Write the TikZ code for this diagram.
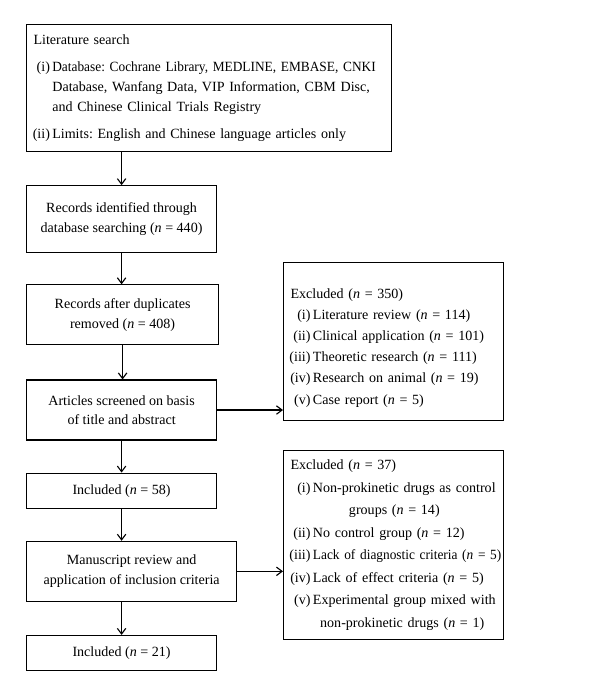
\documentclass[tikz,border=0pt]{standalone}
\usepackage{fontspec}
\setmainfont{Liberation Serif}
\usetikzlibrary{positioning, arrows.meta}
\frenchspacing

\newcommand{\nn}[1]{(\textit{n}~=~#1)}
% numbered line: label width, label, text
\newcommand{\itm}[3]{\mbox{\makebox[#1][r]{#2}\,#3}}
% continued line: indent, text
\newcommand{\cont}[2]{\mbox{\hspace*{#1}#2}}
% slightly condensed text for the long lines
\newcommand{\narrow}[1]{{\addfontfeature{FakeStretch=0.95}#1}}

\begin{document}
\begin{tikzpicture}[
    x=0.025cm, y=-0.025cm,
    node distance=0.8cm,
    box/.style={rectangle, draw, thick, align=center, font=\fontsize{10}{14}\selectfont, minimum width=4.75cm, minimum height=1.5cm, inner sep=0pt},
    listbox/.style={rectangle, draw, thick, align=left, font=\fontsize{10}{14}\selectfont, inner xsep=0.175cm, inner ysep=0pt},
    exbox/.style={listbox, text width=5.15cm},
    arrow/.style={-{Straight Barb[length=4pt, width=6pt]}, thick},
]
\useasboundingbox (0,0) rectangle (600,688);

% ============ Literature search ============
\node[listbox, text width=8.775cm, minimum height=3.175cm, anchor=north west] (search) at (26,24) {Literature search\\[5.5pt]
  \itm{0.41cm}{(i)}{\narrow{Database: Cochrane Library, MEDLINE, EMBASE, CNKI}}\\
  \cont{0.47cm}{Database, Wanfang Data, VIP Information, CBM Disc,}\\
  \cont{0.47cm}{and Chinese Clinical Trials Registry}\\[5.5pt]
  \itm{0.41cm}{(ii)}{Limits: English and Chinese language articles only}};

% ============ Main flow ============
\node[box, minimum height=1.675cm, below=0.825cm of search.south west, anchor=north west] (records) {Records identified through\\database searching \nn{440}};
\node[box, minimum width=4.8cm, below=0.775cm of records.south west, anchor=north west] (nodup) {Records after duplicates\\removed \nn{408}};
\node[box, below=0.85cm of nodup.south west, anchor=north west] (screened) {Articles screened on basis\\of title and abstract};
\node[box, minimum height=0.875cm, below=of screened.south west, anchor=north west] (incl_a) {Included \nn{58}};
\node[box, minimum width=5.25cm, below=of incl_a.south west, anchor=north west] (review) {Manuscript review and\\application of inclusion criteria};
\node[box, minimum height=0.875cm, below=0.825cm of review.south west, anchor=north west] (incl_b) {Included \nn{21}};

% ============ Excluded ============
\node[exbox, font=\fontsize{10}{15}\selectfont, minimum height=3.95cm, anchor=north west] (excl_a) at (283,262) {\rule{0pt}{16pt}Excluded \nn{350}\\
  \itm{0.5cm}{(i)}{Literature review \nn{114}}\\
  \itm{0.5cm}{(ii)}{Clinical application \nn{101}}\\
  \itm{0.5cm}{(iii)}{Theoretic research \nn{111}}\\
  \itm{0.5cm}{(iv)}{Research on animal \nn{19}}\\
  \itm{0.5cm}{(v)}{Case report \nn{5}}};
\node[exbox, font=\fontsize{10}{16}\selectfont, minimum height=4.725cm, below=0.725cm of excl_a.south west, anchor=north west] (excl_b) {Excluded \nn{37}\\
  \itm{0.5cm}{(i)}{Non-prokinetic drugs as control}\\
  \cont{1.46cm}{groups \nn{14}}\\
  \itm{0.5cm}{(ii)}{No control group \nn{12}}\\
  \itm{0.5cm}{(iii)}{\narrow{Lack of diagnostic criteria \nn{5}}}\\
  \itm{0.5cm}{(iv)}{Lack of effect criteria \nn{5}}\\
  \itm{0.5cm}{(v)}{Experimental group mixed with}\\
  \cont{0.74cm}{non-prokinetic drugs \nn{1}}};

% ============ Arrows ============
\draw[arrow] (records.north |- search.south) -- (records.north);
\draw[arrow] (records.south) -- (records.south |- nodup.north);
\draw[arrow] (nodup.south) -- (nodup.south |- screened.north);
\draw[arrow] (screened.south) -- (screened.south |- incl_a.north);
\draw[arrow] (incl_a.south) -- (incl_a.south |- review.north);
\draw[arrow] (incl_b.north |- review.south) -- (incl_b.north);
\draw[arrow] (screened.east) -- (screened.east -| excl_a.west);
\draw[arrow] (review.east) -- (review.east -| excl_b.west);

\end{tikzpicture}
\end{document}
